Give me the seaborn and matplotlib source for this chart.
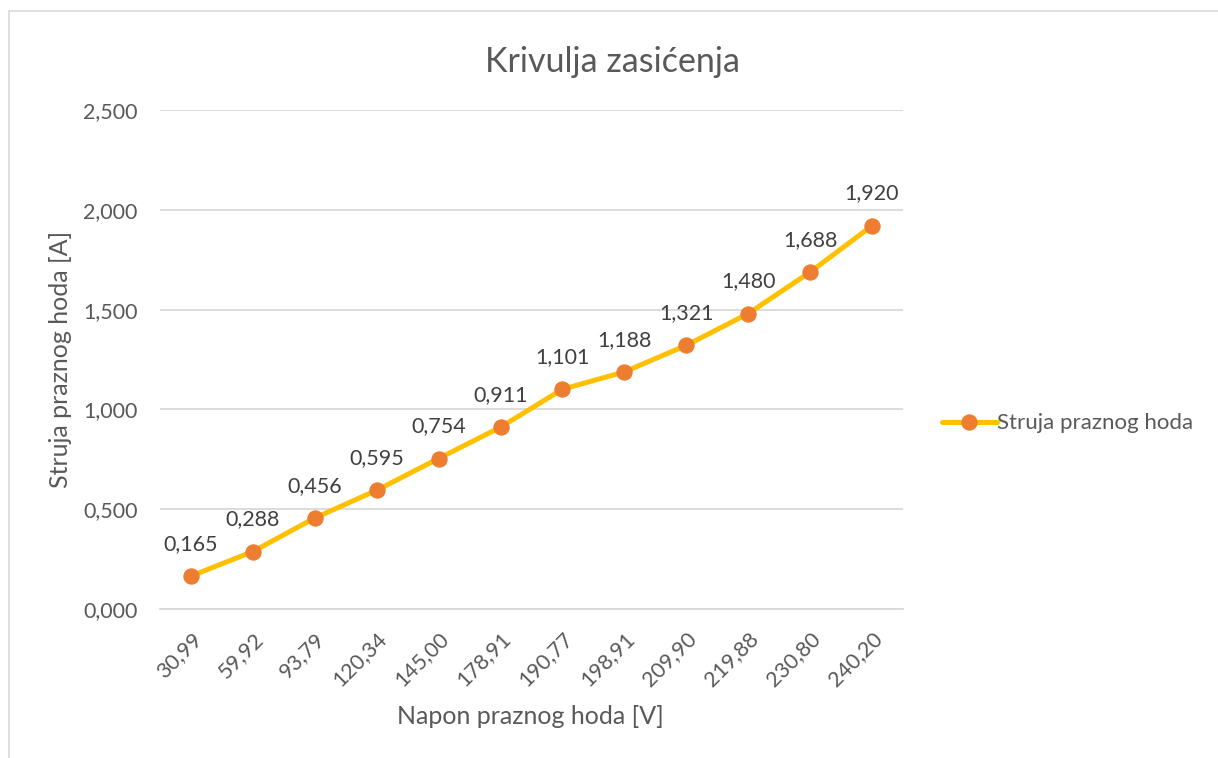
import matplotlib
matplotlib.use("Agg")
import matplotlib.pyplot as plt
import matplotlib.patches as mpatches
from matplotlib.ticker import FuncFormatter, MultipleLocator
import seaborn as sns
import pandas as pd

napon = ["30,99", "59,92", "93,79", "120,34", "145,00", "178,91",
         "190,77", "198,91", "209,90", "219,88", "230,80", "240,20"]
struja = [0.165, 0.288, 0.456, 0.595, 0.754, 0.911,
          1.101, 1.188, 1.321, 1.480, 1.688, 1.920]
series_name = "Struja praznog hoda"

sns.set_theme(style="white")
plt.rcParams['font.family'] = ['Lato', 'DejaVu Sans']
TXT = "#595959"

fig = plt.figure(figsize=(12.18, 7.58), dpi=100)
ax = fig.add_axes([160/1218, 1-609/758, (903-160)/1218, (609-110)/758])

df = pd.DataFrame({"Napon": pd.Categorical(napon, categories=napon, ordered=True),
                   "Struja": struja})
sns.lineplot(data=df, x="Napon", y="Struja", ax=ax, color="#FFC000", lw=3.6,
             marker="o", markersize=11, markerfacecolor="#ED7D31",
             markeredgecolor="#ED7D31", label=series_name, sort=False)

for i, v in enumerate(struja):
    ax.annotate(f"{v:.3f}".replace(".", ","), (i, v), xytext=(0, 16),
                textcoords="offset points", ha="center", va="bottom",
                fontsize=15.5, color="#404040")

ax.set_xlim(-0.5, len(napon) - 0.5)
ax.set_ylim(0, 2.5)
ax.yaxis.set_major_locator(MultipleLocator(0.5))
ax.yaxis.set_major_formatter(FuncFormatter(lambda v, p: f"{v:.3f}".replace(".", ",")))
ax.grid(axis="y", color="#D9D9D9", lw=1.3)
ax.set_axisbelow(True)
for s in ["top", "right", "left"]:
    ax.spines[s].set_visible(False)
ax.spines["bottom"].set_color("#D9D9D9")
ax.spines["bottom"].set_linewidth(1.3)
ax.tick_params(axis="both", length=0, labelsize=15.5, labelcolor=TXT)
ax.tick_params(axis="y", pad=16)
plt.setp(ax.get_xticklabels(), rotation=45, ha="right", rotation_mode="anchor")
ax.tick_params(axis="x", pad=14)

ax.set_xlabel("Napon praznog hoda [V]", fontsize=18, color=TXT)
ax.set_ylabel("Struja praznog hoda [A]", fontsize=18, color=TXT)
ax.xaxis.set_label_coords(0.498, -0.193)
ax.yaxis.set_label_coords(-0.118, 0.5)
fig.text(612/1218, 1-62/758, "Krivulja zasićenja", ha="center", va="center",
         fontsize=24.5, color=TXT)

leg = ax.legend(loc="center left", bbox_to_anchor=(1.025, 0.372), frameon=False,
                fontsize=16, handlelength=2.5, handletextpad=0.0,
                labelcolor=TXT)

fig.patches.append(mpatches.Rectangle((9/1218, -0.05), 1.2, 1 - 11/758 + 0.05,
                                      transform=fig.transFigure, fill=False,
                                      edgecolor="#D9D9D9", lw=1.2))

fig.savefig("out.png", dpi=100)
